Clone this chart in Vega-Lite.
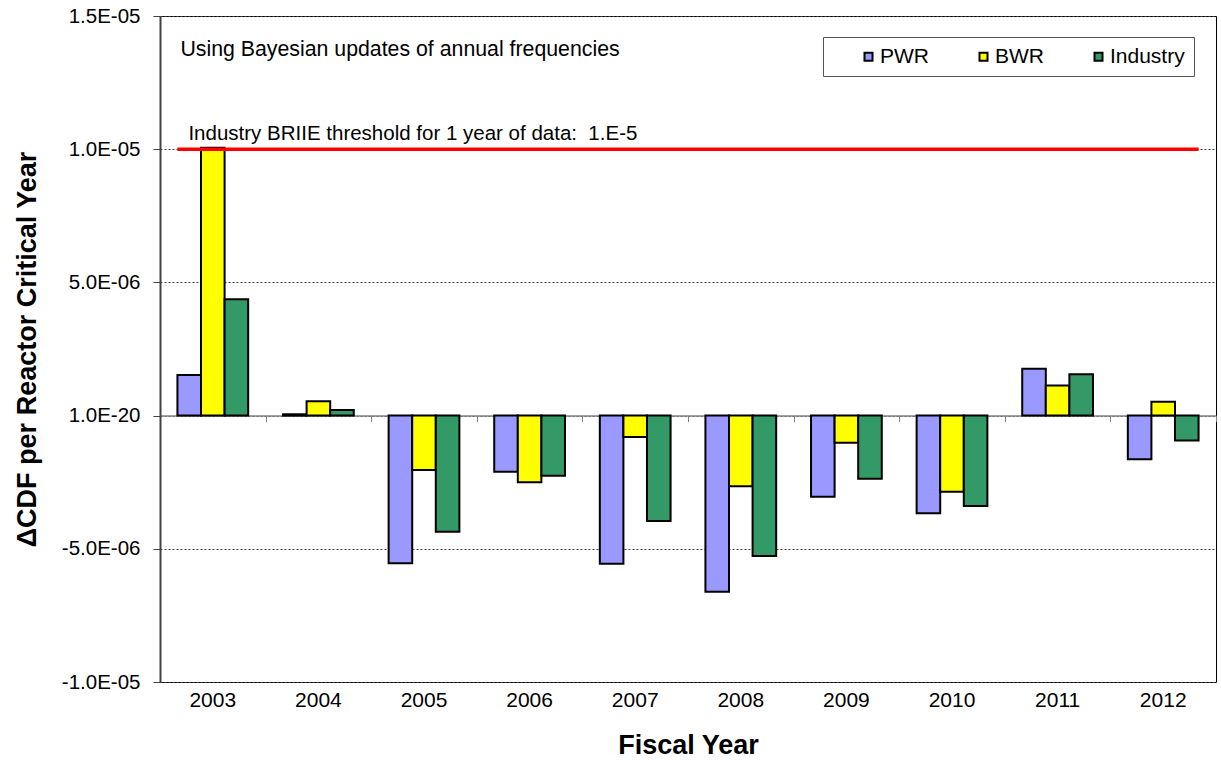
{
  "$schema": "https://vega.github.io/schema/vega-lite/v6.json",
  "autosize": "none",
  "width": 1056,
  "height": 666,
  "padding": {"left": 160, "top": 16, "right": 5, "bottom": 82},
  "background": "white",
  "config": {
    "font": "Liberation Sans",
    "view": {"stroke": "black", "strokeWidth": 1}
  },
  "data": {
    "values": [
      {"year": "2003", "series": "PWR", "value": 1.52e-6},
      {"year": "2003", "series": "BWR", "value": 1.005e-5},
      {"year": "2003", "series": "Industry", "value": 4.37e-6},
      {"year": "2004", "series": "PWR", "value": 0.05e-6},
      {"year": "2004", "series": "BWR", "value": 0.54e-6},
      {"year": "2004", "series": "Industry", "value": 0.21e-6},
      {"year": "2005", "series": "PWR", "value": -5.54e-6},
      {"year": "2005", "series": "BWR", "value": -2.04e-6},
      {"year": "2005", "series": "Industry", "value": -4.36e-6},
      {"year": "2006", "series": "PWR", "value": -2.11e-6},
      {"year": "2006", "series": "BWR", "value": -2.5e-6},
      {"year": "2006", "series": "Industry", "value": -2.26e-6},
      {"year": "2007", "series": "PWR", "value": -5.56e-6},
      {"year": "2007", "series": "BWR", "value": -0.8e-6},
      {"year": "2007", "series": "Industry", "value": -3.96e-6},
      {"year": "2008", "series": "PWR", "value": -6.61e-6},
      {"year": "2008", "series": "BWR", "value": -2.65e-6},
      {"year": "2008", "series": "Industry", "value": -5.27e-6},
      {"year": "2009", "series": "PWR", "value": -3.05e-6},
      {"year": "2009", "series": "BWR", "value": -1.02e-6},
      {"year": "2009", "series": "Industry", "value": -2.37e-6},
      {"year": "2010", "series": "PWR", "value": -3.67e-6},
      {"year": "2010", "series": "BWR", "value": -2.86e-6},
      {"year": "2010", "series": "Industry", "value": -3.39e-6},
      {"year": "2011", "series": "PWR", "value": 1.76e-6},
      {"year": "2011", "series": "BWR", "value": 1.13e-6},
      {"year": "2011", "series": "Industry", "value": 1.55e-6},
      {"year": "2012", "series": "PWR", "value": -1.64e-6},
      {"year": "2012", "series": "BWR", "value": 0.52e-6},
      {"year": "2012", "series": "Industry", "value": -0.93e-6}
    ]
  },
  "layer": [
    {
      "mark": {"type": "bar", "stroke": "black", "strokeWidth": 2},
      "encoding": {
        "x": {
          "field": "year",
          "type": "nominal",
          "scale": {"paddingInner": 0.33, "paddingOuter": 0.165},
          "axis": {
            "orient": "bottom",
            "title": "Fiscal Year",
            "titleFontSize": 27,
            "titleFontWeight": "bold",
            "titleColor": "black",
            "titlePadding": 22,
            "labelFontSize": 21,
            "labelColor": "black",
            "labelAngle": 0,
            "labelPadding": 7,
            "ticks": false,
            "domain": false,
            "grid": false
          }
        },
        "xOffset": {
          "field": "series",
          "type": "nominal",
          "sort": ["PWR", "BWR", "Industry"],
          "scale": {"paddingInner": 0, "paddingOuter": 0}
        },
        "y": {
          "field": "value",
          "type": "quantitative",
          "scale": {"domain": [-1e-5, 1.5e-5], "nice": false, "zero": false},
          "axis": {
            "title": "ΔCDF per Reactor Critical Year",
            "titleFontSize": 27,
            "titleFontWeight": "bold",
            "titleColor": "black",
            "titlePadding": 20,
            "values": [-1e-5, -5e-6, 0, 5e-6, 1e-5, 1.5e-5],
            "labelExpr": "datum.value === 0 ? '1.0E-20' : (datum.value > 0 ? '' : '-') + (abs(datum.value) >= 1e-5 ? format(abs(datum.value) * 1e5, '.1f') + 'E-05' : format(abs(datum.value) * 1e6, '.1f') + 'E-06')",
            "labelFontSize": 20.5,
            "labelColor": "black",
            "labelPadding": 13,
            "tickSize": 7,
            "tickColor": "#404040",
            "domainColor": "#404040",
            "domainWidth": 2,
            "grid": true,
            "gridColor": "#404040",
            "gridDash": [2, 2],
            "gridWidth": 1
          }
        },
        "color": {
          "field": "series",
          "type": "nominal",
          "sort": ["PWR", "BWR", "Industry"],
          "scale": {"domain": ["PWR", "BWR", "Industry"], "range": ["#9999FF", "#FFFF00", "#339966"]},
          "legend": {
            "orient": "none",
            "legendX": 663,
            "legendY": 21,
            "direction": "horizontal",
            "title": "\u00a0",
            "titleOrient": "left",
            "titleFontSize": 1,
            "titlePadding": 26,
            "padding": 9,
            "strokeColor": "#555555",
            "fillColor": "white",
            "symbolType": "square",
            "symbolSize": 64,
            "symbolStrokeColor": "black",
            "symbolStrokeWidth": 2,
            "labelFontSize": 21,
            "labelColor": "black",
            "labelOffset": 1,
            "gridAlign": "all",
            "columnPadding": 18
          }
        }
      }
    },
    {
      "mark": {"type": "point", "opacity": 0},
      "encoding": {
        "x": {
          "field": "year",
          "type": "nominal",
          "axis": {
            "orient": "bottom",
            "offset": -266.4,
            "labels": false,
            "title": null,
            "domainColor": "#808080",
            "domainWidth": 1.5,
            "tickColor": "#808080",
            "tickSize": 6,
            "bandPosition": 1,
            "tickOffset": 17.4,
            "grid": false
          }
        },
        "y": {"datum": 0}
      }
    },
    {
      "data": {"values": [{}]},
      "mark": {"type": "rule", "color": "#FF0000", "strokeWidth": 3.5},
      "encoding": {
        "x": {"datum": "2003", "type": "nominal", "bandPosition": 0, "axis": null},
        "x2": {"datum": "2012", "bandPosition": 1},
        "y": {"datum": 1e-5}
      }
    },
    {
      "data": {"values": [{"label": "Using Bayesian updates of annual frequencies"}]},
      "mark": {"type": "text", "align": "left", "baseline": "alphabetic", "fontSize": 21.3, "dx": 3, "color": "black"},
      "encoding": {
        "x": {"datum": "2003", "type": "nominal", "bandPosition": 0, "axis": null},
        "y": {"datum": 1.351e-5},
        "text": {"field": "label"}
      }
    },
    {
      "data": {"values": [{"label": "Industry BRIIE threshold for 1 year of data:\u00a0 1.E-5"}]},
      "mark": {"type": "text", "align": "left", "baseline": "alphabetic", "fontSize": 20.5, "dx": 11, "color": "black"},
      "encoding": {
        "x": {"datum": "2003", "type": "nominal", "bandPosition": 0, "axis": null},
        "y": {"datum": 1.036e-5},
        "text": {"field": "label"}
      }
    }
  ],
  "resolve": {"axis": {"x": "independent"}}
}
